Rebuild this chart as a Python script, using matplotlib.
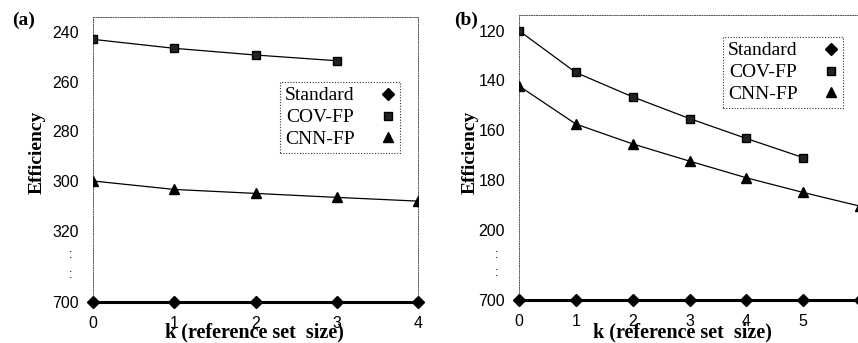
import matplotlib
matplotlib.use("Agg")
import matplotlib.pyplot as plt
import numpy as np

# panel (a)
k_a = [0, 1, 2, 3, 4]
std_a = [700, 700, 700, 700, 700]
cov_a = [243.0, 246.6, 249.3, 251.6]
cnn_a = [300.0, 303.4, 305.0, 306.6, 308.1]
yticks_a = [240, 260, 280, 300, 320, 700]

# panel (b)
k_b = [0, 1, 2, 3, 4, 5, 6]
std_b = [700, 700, 700, 700, 700, 700, 700]
cov_b = [120.0, 136.8, 146.6, 155.3, 163.3, 171.0]
cnn_b = [142.2, 157.5, 165.5, 172.4, 179.1, 185.0, 190.5]
yticks_b = [120, 140, 160, 180, 200, 700]

SERIF = "Liberation Serif"
SANS = "Liberation Sans"


def broken(cut, gap):
    # squeeze everything beyond `cut` so 700 sits just below the last tick
    k = gap / (700 - cut)

    def fwd(v):
        v = np.asarray(v, dtype=float)
        return np.where(v <= cut, v, cut + (v - cut) * k)

    def inv(u):
        u = np.asarray(u, dtype=float)
        return np.where(u <= cut, u, cut + (u - cut) / k)

    return fwd, inv


fig = plt.figure(figsize=(8.58, 3.43), dpi=100)
W, H = 858, 343


def make_axes(px_left, px_right, px_top, px_bottom):
    return fig.add_axes([px_left / W, 1 - px_bottom / H,
                         (px_right - px_left) / W, (px_bottom - px_top) / H])


def style(ax, k, std, cov, cnn, yticks, cut, gap, ylim_top, xlim, ticklab):
    ax.set_yscale("function", functions=broken(cut, gap))
    ax.plot(k[:len(cov)], cov, color="black", lw=0.9, marker="s", ms=6,
            mfc="#222222", mec="black", label="COV-FP", zorder=3)
    ax.plot(k[:len(cnn)], cnn, color="black", lw=0.9, marker="^", ms=6.5,
            label="CNN-FP", zorder=3)
    ax.plot(k, std, color="black", lw=2.2, marker="D", ms=6,
            label="Standard", zorder=4, clip_on=False)
    ax.set_ylim(700, ylim_top)
    ax.set_xlim(*xlim)
    ax.set_yticks(yticks)
    ax.set_yticklabels([str(t) for t in yticks], fontfamily=SANS,
                       fontsize=11.5)
    ax.set_xticks(k[:ticklab])
    ax.set_xticklabels([str(t) for t in k[:ticklab]], fontfamily=SANS,
                       fontsize=11.5)
    ax.tick_params(axis="y", length=0, pad=10)
    ax.tick_params(axis="x", length=0, pad=10)
    for s in ["top", "left", "right"]:
        ax.spines[s].set_linestyle((0, (1, 1.5)))
        ax.spines[s].set_linewidth(0.7)
        ax.spines[s].set_color("#555555")
    ax.spines["bottom"].set_visible(False)
    handles, labels = ax.get_legend_handles_labels()
    order = [2, 0, 1]
    return [handles[i] for i in order], [labels[i] for i in order]


def add_legend(ax, h, l, px_x, px_y):
    leg = ax.legend(h, l, loc="upper left",
                    bbox_to_anchor=(px_x / W, 1 - px_y / H),
                    bbox_transform=fig.transFigure,
                    prop={"family": SERIF, "size": 14}, markerfirst=False,
                    frameon=True, fancybox=False, handlelength=0.8,
                    handletextpad=1.3, labelspacing=0.22, borderpad=0.25,
                    borderaxespad=0)
    leg.get_frame().set_edgecolor("black")
    leg.get_frame().set_linestyle((0, (1, 1.5)))
    leg.get_frame().set_linewidth(0.8)
    for ln in leg.get_lines():
        ln.set_linestyle("none")


def labels(cx, ylab_x):
    fig.text(cx / W, 1 / H, "k (reference set  size)", fontfamily=SERIF,
             fontweight="bold", fontsize=14.5, ha="center", va="bottom")
    fig.text(ylab_x / W, 1 - 152 / H, "Efficiency", fontfamily=SERIF,
             fontweight="bold", fontsize=14, rotation=90, ha="center",
             va="center")


# (a)
ax1 = make_axes(93, 418, 17, 302)
h, l = style(ax1, k_a, std_a, cov_a, cnn_a, yticks_a, 320, 28.7, 234,
             (0, 4), 5)
add_legend(ax1, h, l, 280, 82)
labels(254, 37)
for yy in [255, 275]:
    fig.text(70.5 / W, 1 - yy / H, ":", fontfamily=SANS, fontsize=9,
             ha="center", va="center")
fig.text(24 / W, 1 - 20 / H, "(a)", fontfamily=SERIF, fontweight="bold",
         fontsize=14, ha="center", va="center")

# (b)
ax2 = make_axes(519, 860, 15, 300)
h, l = style(ax2, k_b, std_b, cov_b, cnn_b, yticks_b, 200, 28.2, 113.7,
             (0, 6), 6)
add_legend(ax2, h, l, 723, 37)
labels(682, 470)
for yy in [255, 273]:
    fig.text(497 / W, 1 - yy / H, ":", fontfamily=SANS, fontsize=9,
             ha="center", va="center")
fig.text(466 / W, 1 - 20 / H, "(b)", fontfamily=SERIF, fontweight="bold",
         fontsize=14, ha="center", va="center")

fig.savefig("out.png", dpi=100)
